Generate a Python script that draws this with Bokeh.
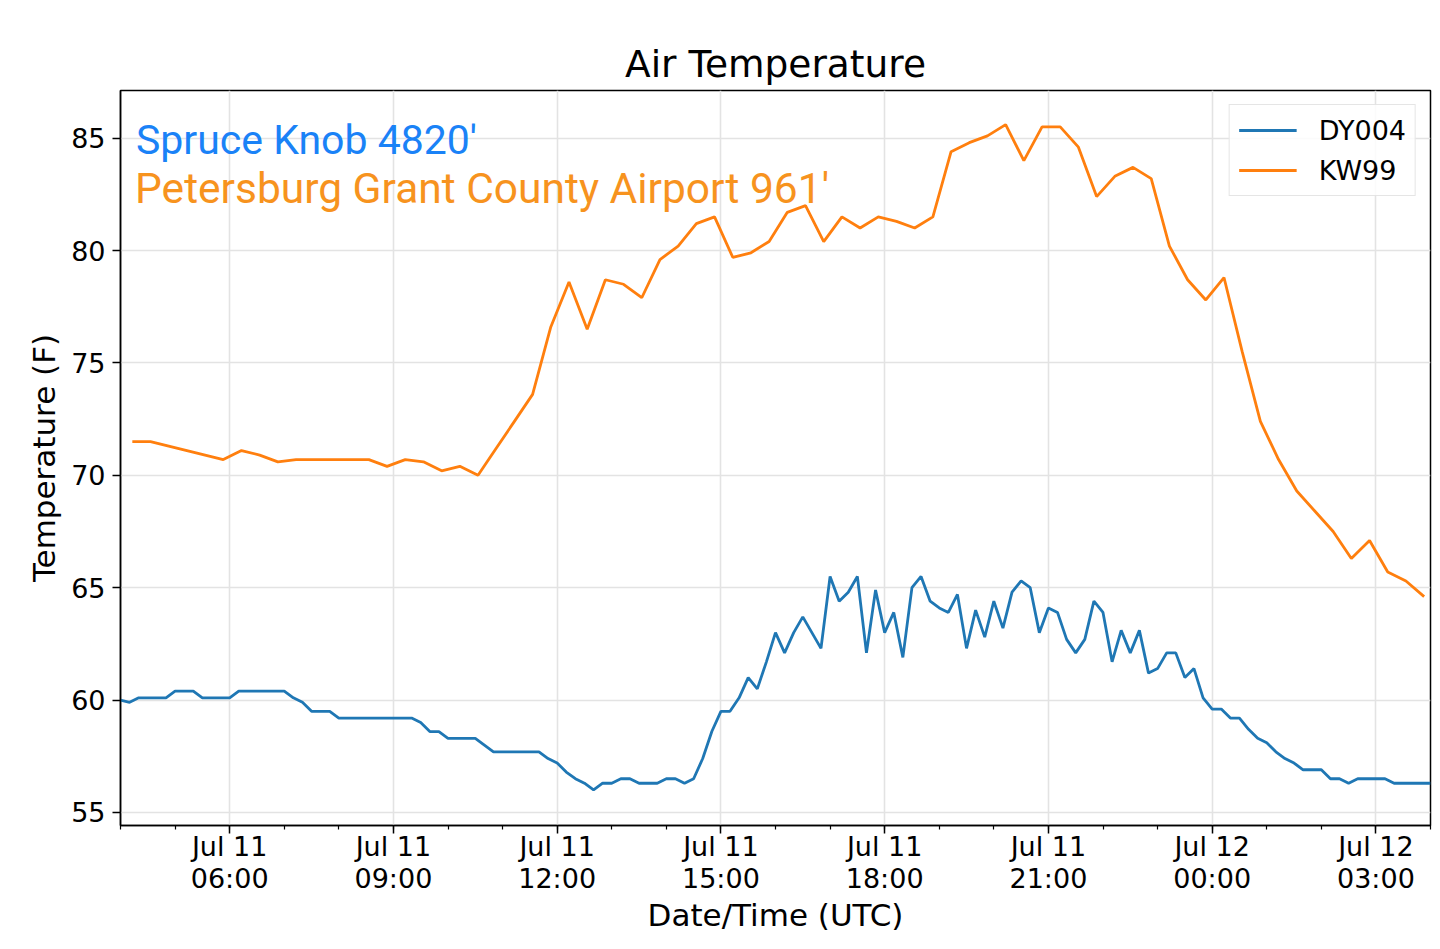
import pandas as pd
from bokeh.plotting import figure
from bokeh.models import Range1d, FixedTicker, Label, Legend, LegendItem
from bokeh.embed import file_html
from bokeh.resources import INLINE

# ---------------- data ----------------
dy004_start = "2019-07-11 04:00"
dy004_temp = [
    60.0, 59.9, 60.1, 60.1, 60.1, 60.1, 60.4, 60.4, 60.4, 60.1,
    60.1, 60.1, 60.1, 60.4, 60.4, 60.4, 60.4, 60.4, 60.4, 60.1,
    59.9, 59.5, 59.5, 59.5, 59.2, 59.2, 59.2, 59.2, 59.2, 59.2,
    59.2, 59.2, 59.2, 59.0, 58.6, 58.6, 58.3, 58.3, 58.3, 58.3,
    58.0, 57.7, 57.7, 57.7, 57.7, 57.7, 57.7, 57.4, 57.2, 56.8,
    56.5, 56.3, 56.0, 56.3, 56.3, 56.5, 56.5, 56.3, 56.3, 56.3,
    56.5, 56.5, 56.3, 56.5, 57.4, 58.6, 59.5, 59.5, 60.1, 61.0,
    60.5, 61.7, 63.0, 62.1, 63.0, 63.7, 63.0, 62.3, 65.5, 64.4,
    64.8, 65.5, 62.1, 64.9, 63.0, 63.9, 61.9, 65.0, 65.5, 64.4,
    64.1, 63.9, 64.7, 62.3, 64.0, 62.8, 64.4, 63.2, 64.8, 65.3,
    65.0, 63.0, 64.1, 63.9, 62.7, 62.1, 62.7, 64.4, 63.9, 61.7,
    63.1, 62.1, 63.1, 61.2, 61.4, 62.1, 62.1, 61.0, 61.4, 60.1,
    59.6, 59.6, 59.2, 59.2, 58.7, 58.3, 58.1, 57.7, 57.4, 57.2,
    56.9, 56.9, 56.9, 56.5, 56.5, 56.3, 56.5, 56.5, 56.5, 56.5,
    56.3, 56.3, 56.3, 56.3, 56.3,
]
kw99_start = "2019-07-11 04:13"
kw99_temp = [
    71.5, 71.5, 71.3, 71.1, 70.9, 70.7, 71.1, 70.9, 70.6, 70.7,
    70.7, 70.7, 70.7, 70.7, 70.4, 70.7, 70.6, 70.2, 70.4, 70.0,
    71.2, 72.4, 73.6, 76.6, 78.6, 76.5, 78.7, 78.5, 77.9, 79.6,
    80.2, 81.2, 81.5, 79.7, 79.9, 80.4, 81.7, 82.0, 80.4, 81.5,
    81.0, 81.5, 81.3, 81.0, 81.5, 84.4, 84.8, 85.1, 85.6, 84.0,
    85.5, 85.5, 84.6, 82.4, 83.3, 83.7, 83.2, 80.2, 78.7, 77.8,
    78.8, 75.5, 72.4, 70.7, 69.3, 68.4, 67.5, 66.3, 67.1, 65.7,
    65.3, 64.6,
]
series_names = ["DY004", "KW99"]
x_tick_times = ["2019-07-11 06:00", "2019-07-11 09:00", "2019-07-11 12:00",
                "2019-07-11 15:00", "2019-07-11 18:00", "2019-07-11 21:00",
                "2019-07-12 00:00", "2019-07-12 03:00"]
x_tick_labels = ["Jul 11\n06:00", "Jul 11\n09:00", "Jul 11\n12:00",
                 "Jul 11\n15:00", "Jul 11\n18:00", "Jul 11\n21:00",
                 "Jul 12\n00:00", "Jul 12\n03:00"]
y_ticks = [55, 60, 65, 70, 75, 80, 85]
annotations = ["Spruce Knob 4820'", "Petersburg Grant County Airport 961'"]

# ---------------- helpers ----------------
def ms(t):
    return (pd.Timestamp(t) - pd.Timestamp("1970-01-01")) / pd.Timedelta(milliseconds=1)

dy_times = pd.date_range(dy004_start, periods=len(dy004_temp), freq="10min")
kw_times = pd.date_range(kw99_start, periods=len(kw99_temp), freq="20min")

x_start = ms("2019-07-11 04:00")
x_end = ms("2019-07-12 04:00")

FONT = "DejaVu Sans"
BLUE = "#1f77b4"
ORANGE = "#ff7f0e"

p = figure(
    x_axis_type="datetime",
    frame_width=1310, frame_height=735,
    min_border_left=120, min_border_right=6, min_border_top=90, min_border_bottom=10,
    output_backend="svg", toolbar_location=None,
    x_range=Range1d(x_start, x_end), y_range=Range1d(54.42, 87.12),
)
p.background_fill_color = "white"
p.border_fill_color = "white"
p.outline_line_color = "black"
p.outline_line_width = 1.5

p.title.text = "Air Temperature"
p.title.align = "center"
p.title.text_font = FONT
p.title.text_font_size = "37.5px"
p.title.text_font_style = "normal"
p.title.text_color = "black"

r1 = p.line(dy_times, dy004_temp, line_color=BLUE, line_width=2.8)
r2 = p.line(kw_times, kw99_temp, line_color=ORANGE, line_width=2.8)

# axes
major_ms = [ms(t) for t in x_tick_times]
minor_ms = [ms(t) for t in pd.date_range("2019-07-11 04:00", "2019-07-12 04:00", freq="1h")]
p.xaxis.ticker = FixedTicker(ticks=major_ms, minor_ticks=minor_ms)
p.xaxis.major_label_overrides = {m: lab for m, lab in zip(major_ms, x_tick_labels)}
p.yaxis.ticker = FixedTicker(ticks=y_ticks)

for ax in (p.xaxis, p.yaxis):
    ax.axis_line_color = "black"
    ax.axis_line_width = 1.5
    ax.major_tick_line_color = "black"
    ax.major_tick_line_width = 1.5
    ax.major_tick_in = 0
    ax.major_tick_out = 8
    ax.minor_tick_in = 0
    ax.minor_tick_out = 4
    ax.minor_tick_line_color = "black"
    ax.minor_tick_line_width = 1.2
    ax.major_label_text_font = FONT
    ax.major_label_text_font_size = "27px"
    ax.major_label_text_color = "black"
    ax.axis_label_text_font = FONT
    ax.axis_label_text_font_size = "31px"
    ax.axis_label_text_font_style = "normal"
    ax.axis_label_text_color = "black"

p.yaxis.minor_tick_line_color = None
p.yaxis.major_label_standoff = 7
p.xaxis.major_label_standoff = -3
p.xaxis.major_label_text_line_height = 1.05
p.xaxis.axis_label = "Date/Time (UTC)"
p.yaxis.axis_label = "Temperature (F)"
p.xaxis.axis_label_standoff = 0
p.yaxis.axis_label_standoff = 6

p.xgrid.ticker = FixedTicker(ticks=major_ms)
p.grid.grid_line_color = "#e3e3e3"
p.grid.grid_line_width = 1.6

# in-plot annotations
p.add_layout(Label(x=ms("2019-07-11 04:17"), y=84.91, text=annotations[0],
                   text_font="Roboto", text_font_size="41px", text_color="#1a82f7",
                   text_baseline="alphabetic"))
p.add_layout(Label(x=ms("2019-07-11 04:16"), y=82.77, text=annotations[1],
                   text_font="Roboto", text_font_size="42.5px", text_color="#f7931e",
                   text_baseline="alphabetic"))

legend = Legend(items=[LegendItem(label=series_names[0], renderers=[r1]),
                       LegendItem(label=series_names[1], renderers=[r2])],
                location="top_right")
legend.label_text_font = FONT
legend.label_text_font_size = "27px"
legend.label_text_color = "black"
legend.glyph_width = 58
legend.glyph_height = 32
legend.label_height = 32
legend.label_standoff = 22
legend.padding = 9
legend.spacing = 8
legend.margin = 14
legend.border_line_color = "#cccccc"
legend.border_line_width = 1.5
legend.background_fill_alpha = 0.85
p.add_layout(legend)

open("out.html", "w").write(file_html(p, INLINE))
